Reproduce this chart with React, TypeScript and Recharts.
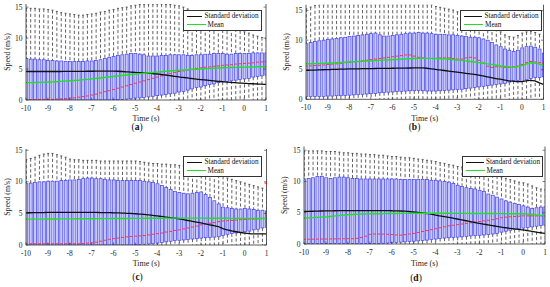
import React from "react";
import { ComposedChart, Bar, Line, Scatter, XAxis, YAxis, Legend } from "recharts";

const FONT = "'Liberation Serif', 'Times New Roman', serif";

// time of each box (s)
const TIME = [
  -10, -9.8, -9.6, -9.4, -9.2, -9, -8.8, -8.6, -8.4, -8.2, -8, -7.8, -7.6, -7.4, -7.2,
  -7, -6.8, -6.6, -6.4, -6.2, -6, -5.8, -5.6, -5.4, -5.2, -5, -4.8, -4.6, -4.4, -4.2,
  -4, -3.8, -3.6, -3.4, -3.2, -3, -2.8, -2.6, -2.4, -2.2, -2, -1.8, -1.6, -1.4, -1.2,
  -1, -0.8, -0.6, -0.4, -0.2, 0, 0.2, 0.4, 0.6, 0.8, 1,
];
const X_TICKS = [-10, -9, -8, -7, -6, -5, -4, -3, -2, -1, 0, 1];
const Y_TICKS = [0, 5, 10, 15];

// lower whisker ends (same for all panels)
const LOW = [
  0, 0, 0, 0, 0, 0, 0, 0, 0, 0, 0, 0, 0, 0, 0, 0, 0, 0, 0, 0, 0, 0, 0, 0, 0, 0, 0, 0,
  0, 0, 0, 0, 0, 0, 0, 0, 0, 0, 0, 0, 0, 0, 0, 0, 0, 0, 0, 0, 0, 0, 0, 0, 0, 0, 0, 0,
];

// ---- panel (a)
const A_HI = [14.8, 14.8, 14.8, 14.7, 14.7, 14.6, 14.5, 14.3, 14.1, 14.0, 13.9, 13.8, 13.7, 13.7, 13.8, 13.9, 14.0, 14.2, 14.3, 14.5, 14.6, 14.8, 14.9, 15.0, 15.2, 15.3, 15.4, 15.4, 15.5, 15.5, 15.5, 15.5, 15.4, 15.4, 15.3, 15.2, 15.0, 14.7, 14.4, 14.1, 13.8, 13.5, 13.2, 12.9, 12.5, 12.2, 12.0, 11.7, 11.5, 11.2, 11.0, 10.8, 10.5, 10.3, 10.1, 9.9];
const A_Q3 = [6.7, 6.6, 6.6, 6.5, 6.5, 6.4, 6.4, 6.3, 6.3, 6.2, 6.2, 6.2, 6.2, 6.2, 6.3, 6.3, 6.4, 6.5, 6.7, 6.9, 7.0, 7.2, 7.3, 7.4, 7.5, 7.5, 7.4, 7.3, 7.1, 7.1, 7.1, 7.2, 7.2, 7.3, 7.3, 7.3, 7.3, 7.2, 7.2, 7.3, 7.3, 7.4, 7.4, 7.5, 7.5, 7.5, 7.4, 7.4, 7.5, 7.5, 7.5, 7.5, 7.6, 7.6, 7.6, 7.6];
const A_MED = [0.05, 0.05, 0.05, 0.1, 0.1, 0.1, 0.1, 0.15, 0.2, 0.25, 0.3, 0.35, 0.45, 0.55, 0.65, 0.8, 0.95, 1.15, 1.35, 1.5, 1.7, 1.9, 2.1, 2.3, 2.5, 2.7, 2.9, 3.1, 3.3, 3.5, 3.7, 3.9, 4.1, 4.25, 4.45, 4.6, 4.7, 4.85, 4.95, 5.1, 5.2, 5.3, 5.35, 5.45, 5.5, 5.6, 5.65, 5.7, 5.8, 5.85, 5.9, 5.95, 6.0, 6.1, 6.15, 6.2];
const A_Q1 = [0, 0, 0, 0, 0, 0, 0, 0, 0, 0, 0, 0, 0, 0, 0, 0, 0, 0, 0, 0, 0.05, 0.05, 0.1, 0.15, 0.2, 0.3, 0.35, 0.4, 0.5, 0.6, 0.7, 0.8, 0.9, 1.0, 1.1, 1.3, 1.4, 1.6, 1.8, 2.0, 2.1, 2.3, 2.5, 2.6, 2.8, 2.9, 3.0, 3.1, 3.2, 3.3, 3.4, 3.5, 3.7, 3.8, 3.9, 4.0];
const A_MEAN = [2.8, 2.8, 2.82, 2.84, 2.86, 2.9, 2.92, 2.95, 3.0, 3.05, 3.1, 3.15, 3.2, 3.26, 3.33, 3.4, 3.48, 3.56, 3.64, 3.72, 3.8, 3.88, 3.96, 4.04, 4.12, 4.2, 4.26, 4.32, 4.38, 4.44, 4.5, 4.56, 4.62, 4.68, 4.74, 4.8, 4.84, 4.88, 4.92, 4.96, 5.0, 5.04, 5.08, 5.12, 5.16, 5.2, 5.22, 5.24, 5.26, 5.28, 5.3, 5.32, 5.34, 5.36, 5.38, 5.4];
const A_STD = [4.6, 4.6, 4.6, 4.6, 4.6, 4.6, 4.6, 4.6, 4.6, 4.62, 4.62, 4.62, 4.63, 4.63, 4.64, 4.64, 4.65, 4.65, 4.66, 4.66, 4.66, 4.64, 4.6, 4.55, 4.5, 4.45, 4.42, 4.38, 4.34, 4.28, 4.2, 4.12, 4.03, 3.93, 3.82, 3.72, 3.64, 3.56, 3.47, 3.38, 3.3, 3.23, 3.16, 3.09, 3.02, 2.96, 2.9, 2.84, 2.79, 2.74, 2.7, 2.66, 2.62, 2.58, 2.55, 2.52];

// ---- panel (b)
const B_HI = [15.3, 15.6, 15.9, 16, 16, 16, 16, 16, 16, 16, 16, 16, 16, 16, 16, 16, 16, 16, 16, 16, 16, 16, 16, 16, 16, 16, 16, 16, 16, 16, 15.7, 15.55, 15.4, 15.25, 15.1, 14.8, 14.5, 14.1, 13.7, 13.5, 13.3, 13.0, 12.6, 12.3, 12.0, 11.4, 10.9, 10.6, 10.5, 10.8, 11.2, 11.4, 11.5, 11.3, 11.0, 10.7];
const B_Q3 = [9.4, 9.6, 9.8, 9.9, 10.0, 10.1, 10.2, 10.3, 10.4, 10.5, 10.6, 10.7, 10.8, 10.9, 11.0, 11.1, 11.2, 10.9, 10.7, 10.7, 10.8, 10.9, 11.0, 11.1, 11.2, 11.2, 11.3, 11.2, 11.2, 11.1, 11.0, 11.0, 11.0, 10.9, 10.9, 10.8, 10.7, 10.6, 10.5, 10.5, 10.4, 10.2, 10.0, 9.6, 9.2, 8.9, 8.5, 8.3, 8.1, 8.3, 8.7, 8.9, 9.0, 8.8, 8.5, 7.8];
const B_MED = [5.6, 5.65, 5.7, 5.75, 5.8, 5.9, 5.95, 6.0, 6.1, 6.2, 6.3, 6.35, 6.4, 6.5, 6.6, 6.7, 6.8, 6.9, 7.0, 7.1, 7.2, 7.3, 7.4, 7.5, 7.5, 7.3, 7.1, 7.0, 6.9, 6.9, 6.9, 7.0, 7.0, 7.0, 6.9, 6.8, 6.8, 7.0, 7.1, 7.0, 6.6, 6.1, 5.6, 5.4, 5.5, 5.5, 5.4, 5.4, 5.5, 5.6, 5.9, 6.2, 6.4, 6.3, 6.2, 6.1];
const B_Q1 = [0.45, 0.45, 0.5, 0.5, 0.5, 0.55, 0.55, 0.6, 0.6, 0.65, 0.7, 0.75, 0.8, 0.85, 0.9, 0.95, 1.0, 1.1, 1.15, 1.2, 1.25, 1.3, 1.35, 1.4, 1.45, 1.45, 1.5, 1.45, 1.4, 1.4, 1.4, 1.45, 1.5, 1.55, 1.6, 1.65, 1.7, 1.8, 1.9, 2.0, 2.1, 2.2, 2.3, 2.4, 2.5, 2.6, 2.7, 2.9, 3.1, 3.2, 3.0, 3.3, 3.5, 3.7, 3.7, 3.8];
const B_MEAN = [6.0, 6.02, 6.04, 6.06, 6.08, 6.1, 6.14, 6.18, 6.22, 6.26, 6.3, 6.34, 6.38, 6.42, 6.46, 6.5, 6.54, 6.58, 6.62, 6.66, 6.7, 6.74, 6.78, 6.82, 6.86, 6.9, 6.92, 6.93, 6.93, 6.92, 6.9, 6.87, 6.83, 6.78, 6.72, 6.65, 6.58, 6.5, 6.4, 6.3, 6.2, 6.1, 6.0, 5.9, 5.8, 5.65, 5.55, 5.48, 5.45, 5.5, 5.7, 5.95, 6.15, 6.15, 5.95, 5.7];
const B_STD = [4.9, 4.92, 4.95, 4.98, 5.0, 5.02, 5.05, 5.07, 5.09, 5.11, 5.13, 5.15, 5.16, 5.18, 5.19, 5.2, 5.21, 5.22, 5.23, 5.24, 5.25, 5.26, 5.27, 5.28, 5.29, 5.3, 5.3, 5.3, 5.25, 5.15, 5.05, 4.96, 4.87, 4.78, 4.69, 4.6, 4.5, 4.4, 4.3, 4.2, 4.1, 3.95, 3.8, 3.65, 3.5, 3.4, 3.25, 3.12, 3.05, 3.0, 3.0, 3.12, 3.2, 3.1, 2.8, 2.5];

// ---- panel (c)
const C_HI = [13.5, 13.7, 13.9, 14.2, 14.4, 14.5, 14.5, 14.3, 14.1, 13.9, 13.6, 13.5, 13.5, 13.4, 13.4, 13.4, 13.4, 13.3, 13.3, 13.3, 13.3, 13.3, 13.3, 13.3, 13.3, 13.3, 13.2, 13.1, 13.0, 12.9, 12.9, 12.8, 12.8, 12.7, 12.7, 12.6, 12.5, 12.4, 12.2, 12.1, 11.9, 11.7, 11.5, 11.3, 11.1, 10.9, 10.6, 10.4, 10.2, 10.0, 9.8, 9.6, 9.4, 9.2, 9.0, 8.7];
const C_Q3 = [9.7, 9.8, 9.9, 10.0, 10.0, 10.1, 10.1, 10.1, 10.2, 10.2, 10.3, 10.3, 10.4, 10.5, 10.6, 10.6, 10.5, 10.5, 10.4, 10.3, 10.3, 10.2, 10.2, 10.2, 10.2, 10.2, 10.2, 10.1, 10.0, 9.9, 9.7, 9.4, 9.1, 8.8, 8.5, 8.3, 8.2, 8.1, 8.2, 8.3, 8.4, 8.0, 7.5, 7.0, 6.5, 6.0, 5.9, 5.8, 5.7, 5.7, 5.8, 5.7, 5.6, 5.5, 5.5, 5.4];
const C_MED = [0.2, 0.2, 0.2, 0.2, 0.2, 0.2, 0.2, 0.2, 0.2, 0.2, 0.2, 0.2, 0.2, 0.25, 0.3, 0.35, 0.45, 0.6, 0.75, 0.9, 1.0, 1.1, 1.2, 1.28, 1.35, 1.4, 1.45, 1.5, 1.6, 1.7, 1.8, 1.9, 2.05, 2.15, 2.3, 2.4, 2.55, 2.7, 2.85, 3.0, 3.2, 3.35, 3.45, 3.55, 3.7, 3.8, 3.85, 3.9, 3.95, 4.0, 4.05, 4.1, 4.1, 4.15, 4.2, 4.2];
const C_Q1 = [0, 0, 0, 0, 0, 0, 0, 0, 0, 0, 0, 0, 0, 0, 0, 0, 0, 0, 0, 0, 0, 0, 0, 0, 0, 0.05, 0.08, 0.12, 0.16, 0.2, 0.3, 0.4, 0.5, 0.6, 0.7, 0.75, 0.8, 0.85, 0.95, 1.0, 1.1, 1.15, 1.2, 1.25, 1.3, 1.5, 1.7, 1.8, 1.9, 2.0, 2.1, 2.2, 2.4, 2.5, 2.7, 2.8];
const C_MEAN = [4.1, 4.1, 4.1, 4.1, 4.1, 4.12, 4.12, 4.12, 4.13, 4.13, 4.14, 4.14, 4.15, 4.15, 4.16, 4.16, 4.17, 4.17, 4.18, 4.18, 4.19, 4.19, 4.2, 4.2, 4.21, 4.21, 4.22, 4.22, 4.23, 4.23, 4.24, 4.24, 4.25, 4.25, 4.25, 4.25, 4.25, 4.25, 4.25, 4.25, 4.25, 4.25, 4.24, 4.24, 4.24, 4.23, 4.23, 4.22, 4.22, 4.22, 4.21, 4.21, 4.2, 4.2, 4.2, 4.2];
const C_STD = [5.1, 5.11, 5.12, 5.13, 5.14, 5.15, 5.15, 5.15, 5.15, 5.15, 5.15, 5.15, 5.15, 5.15, 5.15, 5.15, 5.15, 5.14, 5.13, 5.12, 5.1, 5.08, 5.05, 5.02, 4.99, 4.95, 4.9, 4.85, 4.78, 4.7, 4.6, 4.52, 4.43, 4.34, 4.25, 4.15, 4.02, 3.88, 3.75, 3.62, 3.5, 3.35, 3.2, 3.05, 2.9, 2.6, 2.4, 2.25, 2.1, 1.98, 1.88, 1.8, 1.76, 1.75, 1.75, 1.75];
const C_OUT_T = [1];
const C_OUT_V = [9.8];

// ---- panel (d)
const D_HI = [14.8, 14.9, 14.9, 14.9, 14.9, 14.8, 14.8, 14.8, 14.7, 14.6, 14.6, 14.5, 14.5, 14.4, 14.4, 14.3, 14.3, 14.2, 14.2, 14.1, 14.0, 14.0, 13.9, 13.8, 13.8, 13.7, 13.6, 13.5, 13.4, 13.3, 13.2, 13.0, 12.9, 12.7, 12.6, 12.4, 12.3, 12.1, 11.9, 11.8, 11.8, 11.6, 11.4, 11.1, 10.9, 10.7, 10.5, 10.3, 10.1, 9.9, 9.8, 9.6, 9.3, 9.0, 8.8, 8.7];
const D_Q3 = [10.4, 10.5, 10.6, 10.8, 10.8, 10.6, 10.5, 10.6, 10.7, 10.7, 10.6, 10.5, 10.5, 10.4, 10.4, 10.4, 10.4, 10.4, 10.4, 10.4, 10.4, 10.4, 10.3, 10.3, 10.3, 10.3, 10.3, 10.3, 10.3, 10.2, 10.2, 10.1, 10.0, 9.9, 9.7, 9.4, 9.2, 9.0, 8.9, 8.8, 8.6, 8.4, 8.0, 7.8, 7.5, 7.2, 6.9, 6.7, 6.5, 6.3, 6.1, 5.9, 5.7, 5.8, 5.9, 5.95];
const D_MED = [0.75, 0.76, 0.77, 0.78, 0.79, 0.8, 0.81, 0.82, 0.83, 0.84, 0.85, 0.85, 0.9, 1.05, 1.25, 1.55, 1.6, 1.6, 1.58, 1.55, 1.5, 1.45, 1.42, 1.5, 1.6, 1.7, 1.85, 2.0, 2.15, 2.3, 2.45, 2.6, 2.75, 2.9, 3.0, 3.1, 3.2, 3.3, 3.4, 3.5, 3.6, 3.7, 3.8, 3.9, 4.05, 4.2, 4.3, 4.35, 4.4, 4.45, 4.5, 4.5, 4.5, 4.5, 4.5, 4.5];
const D_Q1 = [0.1, 0.1, 0.1, 0.1, 0.1, 0.1, 0.1, 0.1, 0.1, 0.1, 0.1, 0.1, 0.1, 0.1, 0.1, 0.1, 0.1, 0.1, 0.12, 0.15, 0.2, 0.25, 0.3, 0.35, 0.4, 0.45, 0.5, 0.55, 0.62, 0.7, 0.8, 0.9, 0.95, 1.0, 1.05, 1.1, 1.15, 1.2, 1.3, 1.35, 1.4, 1.45, 1.5, 1.6, 1.7, 1.9, 2.05, 2.2, 2.3, 2.4, 2.55, 2.65, 2.75, 2.85, 2.95, 3.0];
const D_MEAN = [4.15, 4.18, 4.22, 4.26, 4.3, 4.34, 4.4, 4.48, 4.56, 4.62, 4.68, 4.72, 4.76, 4.79, 4.81, 4.83, 4.84, 4.85, 4.86, 4.87, 4.88, 4.89, 4.9, 4.9, 4.9, 4.91, 4.91, 4.91, 4.91, 4.91, 4.91, 4.91, 4.91, 4.91, 4.9, 4.9, 4.9, 4.9, 4.89, 4.89, 4.88, 4.88, 4.87, 4.87, 4.86, 4.86, 4.85, 4.85, 4.84, 4.84, 4.83, 4.8, 4.75, 4.66, 4.58, 4.5];
const D_STD = [5.2, 5.22, 5.24, 5.26, 5.28, 5.3, 5.31, 5.32, 5.33, 5.34, 5.35, 5.35, 5.35, 5.35, 5.35, 5.35, 5.35, 5.35, 5.34, 5.33, 5.32, 5.3, 5.28, 5.25, 5.2, 5.12, 5.04, 4.96, 4.88, 4.8, 4.62, 4.5, 4.38, 4.26, 4.13, 4.0, 3.86, 3.72, 3.58, 3.44, 3.3, 3.18, 3.06, 2.94, 2.82, 2.7, 2.6, 2.5, 2.42, 2.33, 2.25, 2.14, 2.02, 1.9, 1.8, 1.7];

const buildRows = (hi: number[], q3: number[], med: number[], q1: number[], lo: number[], mean: number[], std: number[]) =>
  TIME.map((t, i) => ({
    t,
    range: [lo[i], hi[i]],
    hi: hi[i],
    q3: q3[i],
    med: med[i],
    q1: q1[i],
    lo: lo[i],
    mean: mean[i],
    std: std[i],
  }));

const PANELS = [
  {
    id: "a",
    rows: buildRows(A_HI, A_Q3, A_MED, A_Q1, LOW, A_MEAN, A_STD),
    outliers: [] as { t: number; v: number }[],
    box: { left: 0, top: 0, width: 275, height: 140 },
    plot: { x0: 26, x1: 266, y0: 4, y1: 100 },
    yMax: 15.5,
    legend: { x: 182.5, y: 10, w: 79 },
    timeY: 120.5,
    speedX: 7.3,
    caption: { x: 137, y: 127 },
  },
  {
    id: "b",
    rows: buildRows(B_HI, B_Q3, B_MED, B_Q1, LOW, B_MEAN, B_STD),
    outliers: [] as { t: number; v: number }[],
    box: { left: 275, top: 0, width: 275, height: 140 },
    plot: { x0: 306, x1: 543.5, y0: 4.7, y1: 99.3 },
    yMax: 16,
    legend: { x: 460, y: 10, w: 81.5 },
    timeY: 121,
    speedX: 11.7,
    caption: { x: 414.5, y: 126.5 },
  },
  {
    id: "c",
    rows: buildRows(C_HI, C_Q3, C_MED, C_Q1, LOW, C_MEAN, C_STD),
    outliers: C_OUT_T.map((t, i) => ({ t, v: C_OUT_V[i] })),
    box: { left: 0, top: 140, width: 275, height: 147 },
    plot: { x0: 26, x1: 266.5, y0: 149, y1: 245 },
    yMax: 15.2,
    legend: { x: 182.5, y: 156, w: 79 },
    timeY: 266,
    speedX: 7.3,
    caption: { x: 137.5, y: 277 },
  },
  {
    id: "d",
    rows: buildRows(D_HI, D_Q3, D_MED, D_Q1, LOW, D_MEAN, D_STD),
    outliers: [] as { t: number; v: number }[],
    box: { left: 275, top: 140, width: 275, height: 147 },
    plot: { x0: 304, x1: 545, y0: 146.5, y1: 244 },
    yMax: 15.6,
    legend: { x: 461.5, y: 156, w: 81.5 },
    timeY: 265.5,
    speedX: 9.3,
    caption: { x: 416, y: 277.5 },
  },
];

const AXIS = "#333";
const tickText = { fontSize: 7.5, fontFamily: FONT, fill: "#262626" };

const BottomTick = (p: any) => (
  <g>
    <line x1={p.x} x2={p.x} y1={p.y} y2={p.y - 2.5} stroke={AXIS} strokeWidth={0.6} />
    <text x={p.x} y={p.y + 10.8} textAnchor="middle" {...tickText}>
      {p.payload.value}
    </text>
  </g>
);
const TopTick = (p: any) => (
  <line x1={p.x} x2={p.x} y1={p.y} y2={p.y + 2.5} stroke={AXIS} strokeWidth={0.6} />
);
const LeftTick = (p: any) => (
  <g>
    <line x1={p.x} x2={p.x + 2.5} y1={p.y} y2={p.y} stroke={AXIS} strokeWidth={0.6} />
    <text x={p.x - 3.5} y={p.y + 2.6} textAnchor="end" {...tickText}>
      {p.payload.value}
    </text>
  </g>
);
const RightTick = (p: any) => (
  <line x1={p.x} x2={p.x - 2.5} y1={p.y} y2={p.y} stroke={AXIS} strokeWidth={0.6} />
);

// one MATLAB-style box: dashed whiskers, caps, filled box, red median
const BoxShape = (props: any) => {
  const { x, y, width, height, payload } = props;
  if (!payload || width == null) return null;
  const { lo, q1, med, q3, hi } = payload;
  const top = Math.min(y, y + height);
  const bottom = Math.max(y, y + height);
  const py = (v: number) => bottom - ((bottom - top) * (v - lo)) / (hi - lo || 1);
  const cx = x + width / 2;
  return (
    <g>
      <line x1={cx} x2={cx} y1={py(hi)} y2={py(q3)} stroke="#3a3a3a" strokeWidth={0.8} strokeDasharray="3.2 2.2" />
      <line x1={cx - 1} x2={cx + 1} y1={py(hi)} y2={py(hi)} stroke="#3a3a3a" strokeWidth={0.8} />
      {q1 > lo && (
        <line x1={cx} x2={cx} y1={py(q1)} y2={py(lo)} stroke="#3a3a3a" strokeWidth={0.8} strokeDasharray="3.2 2.2" />
      )}
      <rect x={x} y={py(q3)} width={width} height={Math.max(py(q1) - py(q3), 0.5)} fill="#c6c6f7" stroke="#3c3cf2" strokeWidth={0.7} />
      <line x1={x} x2={x + width} y1={py(med)} y2={py(med)} stroke="#ff2a2a" strokeWidth={0.9} />
    </g>
  );
};

const PlusShape = (p: any) => (
  <g stroke="#ff0000" strokeWidth={0.9}>
    <line x1={p.cx - 2} x2={p.cx + 2} y1={p.cy} y2={p.cy} />
    <line x1={p.cx} x2={p.cx} y1={p.cy - 2} y2={p.cy + 2} />
  </g>
);

const LEGEND_ORDER = ["std", "mean"];

const LegendBox = (props: any) => {
  const items = (props.payload || [])
    .filter((e: any) => LEGEND_ORDER.includes(e.dataKey))
    .sort((a: any, b: any) => LEGEND_ORDER.indexOf(a.dataKey) - LEGEND_ORDER.indexOf(b.dataKey));
  return (
    <div
      style={{
        border: "0.8px solid #333",
        background: "#fff",
        padding: "1px 2px 1px 3px",
        fontFamily: FONT,
        fontSize: 7.2,
        color: "#111",
        boxSizing: "border-box",
      }}
    >
      {items.map((e: any) => (
        <div key={e.value} style={{ display: "flex", alignItems: "center", height: 8.4, whiteSpace: "nowrap" }}>
          <span style={{ display: "inline-block", width: 19, borderTop: `1.4px solid ${e.color}`, marginRight: 2 }} />
          <span>{e.value}</span>
        </div>
      ))}
    </div>
  );
};

function Panel({ p }: { p: (typeof PANELS)[number] }) {
  const { box, plot } = p;
  const leftW = plot.x0 - box.left;
  const axisH = 22;
  const margin = {
    top: plot.y0 - box.top,
    left: 0,
    right: box.left + box.width - plot.x1 - 1,
    bottom: box.top + box.height - plot.y1 - axisH,
  };
  return (
    <div style={{ position: "absolute", left: box.left, top: box.top, width: box.width, height: box.height }}>
      <ComposedChart width={box.width} height={box.height} data={p.rows} margin={margin}>
        <XAxis
          dataKey="t"
          type="number"
          domain={[-10, 1]}
          ticks={X_TICKS}
          interval={0}
          allowDataOverflow
          height={axisH}
          tickSize={0}
          tickMargin={0}
          tickLine={false}
          axisLine={{ stroke: AXIS, strokeWidth: 0.8 }}
          tick={BottomTick}
          label={{
            value: "Time (s)",
            position: "insideBottom",
            offset: plot.y1 + axisH - p.timeY,
            fontSize: 8,
            fontFamily: FONT,
            fill: "#222",
          }}
        />
        <XAxis
          xAxisId="top"
          orientation="top"
          type="number"
          domain={[-10, 1]}
          ticks={X_TICKS}
          interval={0}
          allowDataOverflow
          height={0}
          tickSize={0}
          tickMargin={0}
          tickLine={false}
          axisLine={{ stroke: AXIS, strokeWidth: 0.8 }}
          tick={TopTick}
        />
        <YAxis
          type="number"
          domain={[0, p.yMax]}
          ticks={Y_TICKS}
          interval={0}
          allowDataOverflow
          width={leftW}
          tickSize={0}
          tickMargin={0}
          tickLine={false}
          axisLine={{ stroke: AXIS, strokeWidth: 0.8 }}
          tick={LeftTick}
          label={{
            value: "Speed (m/s)",
            angle: -90,
            position: "insideLeft",
            offset: p.speedX,
            fontSize: 7.8,
            fontFamily: FONT,
            fill: "#222",
            style: { textAnchor: "middle" },
          }}
        />
        <YAxis
          yAxisId="r"
          orientation="right"
          type="number"
          domain={[0, p.yMax]}
          ticks={Y_TICKS}
          interval={0}
          allowDataOverflow
          width={1}
          tickSize={0}
          tickMargin={0}
          tickLine={false}
          axisLine={{ stroke: AXIS, strokeWidth: 0.8 }}
          tick={RightTick}
        />
        <Bar dataKey="range" barSize={3} shape={BoxShape} legendType="none" isAnimationActive={false} />
        <Line
          dataKey="std"
          name="Standard deviation"
          type="monotone"
          stroke="#111111"
          strokeWidth={1.3}
          dot={false}
          activeDot={false}
          isAnimationActive={false}
        />
        <Line
          dataKey="mean"
          name="Mean"
          type="monotone"
          stroke="#1fe21f"
          strokeWidth={1.4}
          dot={false}
          activeDot={false}
          isAnimationActive={false}
        />
        {p.outliers.length > 0 && (
          <Scatter data={p.outliers} dataKey="v" shape={PlusShape} legendType="none" isAnimationActive={false} />
        )}
        <Legend
          layout="vertical"
          align="center"
          verticalAlign="middle"
          wrapperStyle={{ left: p.legend.x - box.left, top: p.legend.y - box.top, width: p.legend.w, height: "auto" }}
          content={LegendBox}
        />
      </ComposedChart>
      <div
        style={{
          position: "absolute",
          left: p.caption.x - box.left - 20,
          top: p.caption.y - box.top - 6,
          width: 40,
          lineHeight: "12px",
          textAlign: "center",
          fontFamily: FONT,
          fontSize: 9.5,
          color: "#111",
        }}
      >
        (<b>{p.id}</b>)
      </div>
    </div>
  );
}

export default function App() {
  return (
    <div style={{ position: "absolute", left: 0, top: 0, width: 550, height: 287, background: "#fff", overflow: "hidden" }}>
      {PANELS.map((p) => (
        <Panel key={p.id} p={p} />
      ))}
    </div>
  );
}
